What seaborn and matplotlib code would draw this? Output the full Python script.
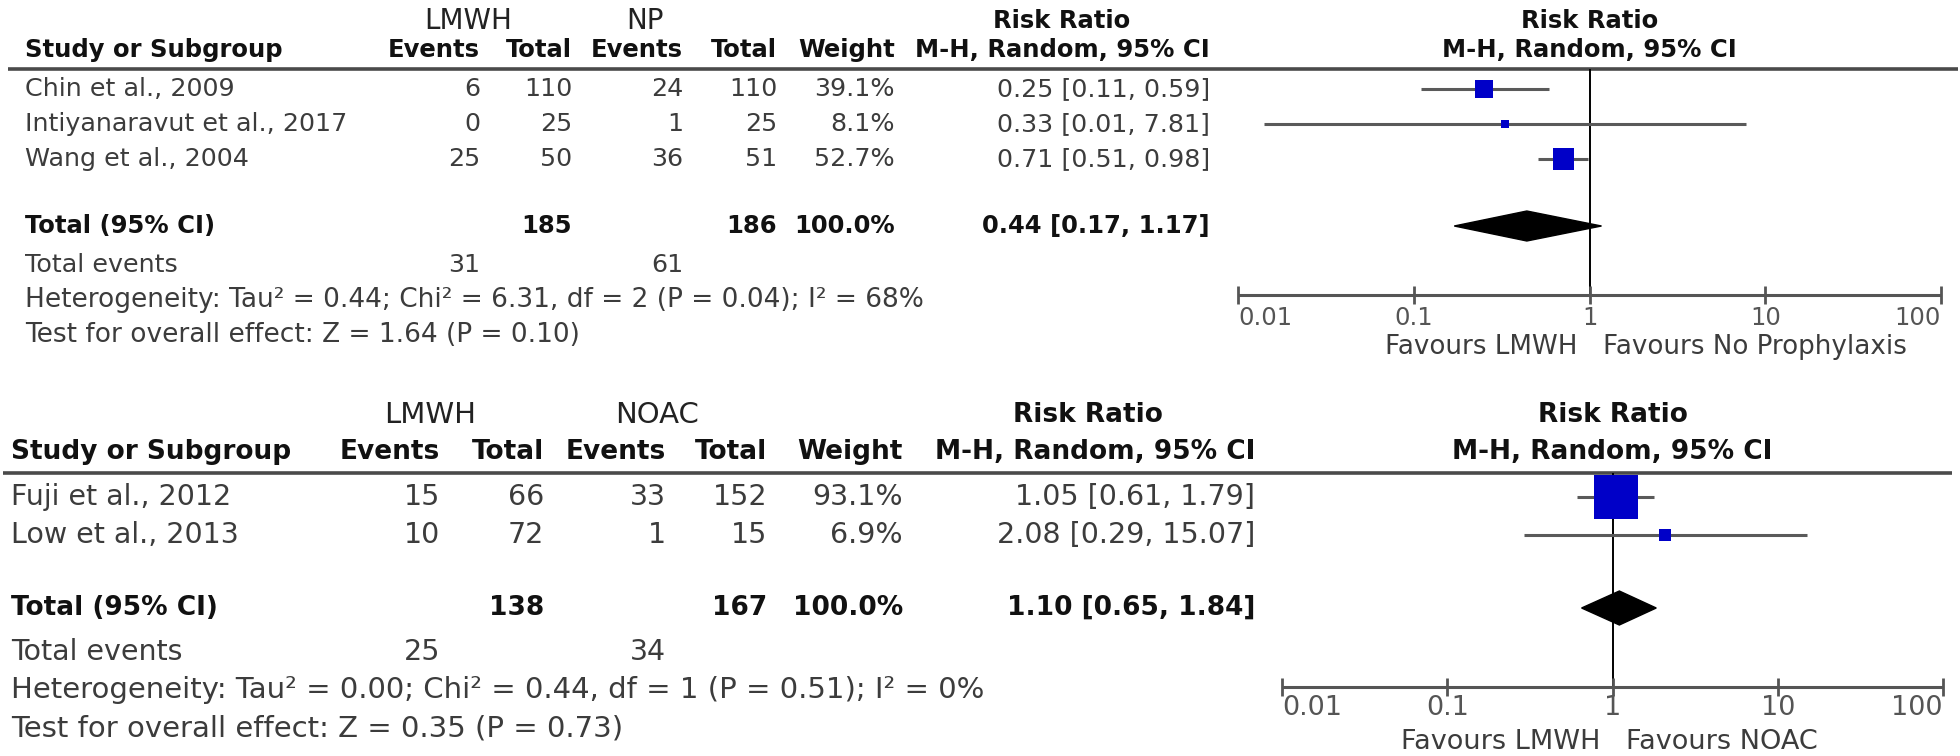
# -*- coding: utf-8 -*-
"""
Two RevMan-style forest plots: LMWH vs no prophylaxis, LMWH vs NOAC.
Table on the left drawn as text, forest on the right on a log scale.
"""

import numpy as np
import pandas as pd
import matplotlib
matplotlib.use("Agg")
import matplotlib.pyplot as plt
import seaborn as sns

# ---------- data: LMWH vs no prophylaxis ----------
np_studies = ["Chin et al., 2009", "Intiyanaravut et al., 2017", "Wang et al., 2004"]
np_ev1 = [6, 0, 25]
np_n1 = [110, 25, 50]
np_ev2 = [24, 1, 36]
np_n2 = [110, 25, 51]
np_weight = [39.1, 8.1, 52.7]
np_rr = [0.25, 0.33, 0.71]
np_lo = [0.11, 0.014, 0.51]
np_hi = [0.59, 7.81, 0.98]
np_total = [0.44, 0.17, 1.17]      # pooled RR, lower, upper
np_total_weight = 100.0
np_het = "Heterogeneity: Tau² = 0.44; Chi² = 6.31, df = 2 (P = 0.04); I² = 68%"
np_test = "Test for overall effect: Z = 1.64 (P = 0.10)"

# ---------- data: LMWH vs NOAC ----------
noac_studies = ["Fuji et al., 2012", "Low et al., 2013"]
noac_ev1 = [15, 10]
noac_n1 = [66, 72]
noac_ev2 = [33, 1]
noac_n2 = [152, 15]
noac_weight = [93.1, 6.9]
noac_rr = [1.05, 2.08]
noac_lo = [0.61, 0.29]
noac_hi = [1.79, 15.07]
noac_total = [1.10, 0.65, 1.84]
noac_total_weight = 100.0
noac_het = "Heterogeneity: Tau² = 0.00; Chi² = 0.44, df = 1 (P = 0.51); I² = 0%"
noac_test = "Test for overall effect: Z = 0.35 (P = 0.73)"

ticks = [0.01, 0.1, 1, 10, 100]

W, H = 1960, 756
sns.set_theme(style="white")
plt.rcParams['font.family'] = ['DejaVu Sans']

fig = plt.figure(figsize=(W / 100, H / 100), dpi=100)
tab = fig.add_axes([0, 0, 1, 1])
tab.set_xlim(0, W)
tab.set_ylim(H, 0)
tab.axis('off')

GREY = '#3c3c3c'
LINE = '#555555'
BLUE = '#0000c8'

# layout of each panel, in pixels of the final picture
top_layout = dict(x_left=25, line_x=(8, 1958), y_grp=21, y_hdr=50, y_line=69,
                  y_row0=89, dy=35, y_total=226, y_tev=265, y_het=300, y_test=335,
                  ev1=480, n1=572, ev2=683, n2=777, wt=895, ci=1210,
                  grp1=468, grp2=645, rr_hdr=1062,
                  f01=1238, f100=1941, y_axis=295, y_tick=318, y_fav=347,
                  fs=18.3, fsb=17.5, fs_grp=20, fs_het=19, fs_fav=18.8, fs_tick=17.5,
                  sq=4.4, dh=15)
bot_layout = dict(x_left=11, line_x=(3, 1952), y_grp=415, y_hdr=452, y_line=473,
                  y_row0=497, dy=38, y_total=608, y_tev=652, y_het=690, y_test=728,
                  ev1=440, n1=544, ev2=666, n2=767, wt=903, ci=1255,
                  grp1=430, grp2=657, rr_hdr=1088,
                  f01=1282, f100=1943, y_axis=687, y_tick=708, y_fav=742,
                  fs=20.5, fsb=19, fs_grp=21, fs_het=21, fs_fav=19.5, fs_tick=19.5,
                  sq=10.5, dh=17)


def draw_panel(L, studies, ev1, n1, ev2, n2, weight, rr, lo, hi, total, total_w,
               het, test, grp2, fav2):
    body = dict(fontsize=L['fs'], color=GREY, va='center')
    bold = dict(fontsize=L['fsb'], color='#111111', va='center', fontweight='bold')

    # group headers
    tab.text(L['grp1'], L['y_grp'], "LMWH", ha='center', va='center', fontsize=L['fs_grp'], color='#222222')
    tab.text(L['grp2'], L['y_grp'], grp2, ha='center', va='center', fontsize=L['fs_grp'], color='#222222')
    tab.text(L['rr_hdr'], L['y_grp'], "Risk Ratio", ha='center', **bold)

    # column headers
    tab.text(L['x_left'], L['y_hdr'], "Study or Subgroup", ha='left', **bold)
    for key, lab in [('ev1', 'Events'), ('n1', 'Total'), ('ev2', 'Events'),
                     ('n2', 'Total'), ('wt', 'Weight'), ('ci', 'M-H, Random, 95% CI')]:
        tab.text(L[key], L['y_hdr'], lab, ha='right', **bold)
    tab.hlines(L['y_line'], *L['line_x'], color='#4a4a4a', lw=2.6)

    rows_y = L['y_row0'] + L['dy'] * np.arange(len(studies))
    for i, y in enumerate(rows_y):
        tab.text(L['x_left'], y, studies[i], ha='left', **body)
        tab.text(L['ev1'], y, str(ev1[i]), ha='right', **body)
        tab.text(L['n1'], y, str(n1[i]), ha='right', **body)
        tab.text(L['ev2'], y, str(ev2[i]), ha='right', **body)
        tab.text(L['n2'], y, str(n2[i]), ha='right', **body)
        tab.text(L['wt'], y, f"{weight[i]:.1f}%", ha='right', **body)
        tab.text(L['ci'], y, f"{rr[i]:.2f} [{lo[i]:.2f}, {hi[i]:.2f}]", ha='right', **body)

    # pooled row
    yt = L['y_total']
    tab.text(L['x_left'], yt, "Total (95% CI)", ha='left', **bold)
    tab.text(L['n1'], yt, str(sum(n1)), ha='right', **bold)
    tab.text(L['n2'], yt, str(sum(n2)), ha='right', **bold)
    tab.text(L['wt'], yt, f"{total_w:.1f}%", ha='right', **bold)
    tab.text(L['ci'], yt, f"{total[0]:.2f} [{total[1]:.2f}, {total[2]:.2f}]", ha='right', **bold)

    tab.text(L['x_left'], L['y_tev'], "Total events", ha='left', **body)
    tab.text(L['ev1'], L['y_tev'], str(sum(ev1)), ha='right', **body)
    tab.text(L['ev2'], L['y_tev'], str(sum(ev2)), ha='right', **body)
    tab.text(L['x_left'], L['y_het'], het, ha='left', va='center', fontsize=L['fs_het'], color=GREY)
    tab.text(L['x_left'], L['y_test'], test, ha='left', va='center', fontsize=L['fs_het'], color=GREY)

    # forest part
    fx = fig.add_axes([L['f01'] / W, 0, (L['f100'] - L['f01']) / W, 1])
    fx.set_xscale('log')
    fx.text(1, L['y_grp'], "Risk Ratio", ha='center', **bold)
    fx.text(1, L['y_hdr'], "M-H, Random, 95% CI", ha='center', **bold)

    fx.vlines(1, L['y_line'], L['y_axis'], color='black', lw=1.4, zorder=1)
    fx.hlines(rows_y, lo, hi, color='#5a5a5a', lw=2.2, zorder=2)

    df = pd.DataFrame({'rr': rr, 'y': rows_y, 'w': weight})
    sns.scatterplot(data=df, x='rr', y='y', size='w', size_norm=(0, 100),
                    sizes=(0, L['sq'] * 100), marker='s', color=BLUE,
                    edgecolor='none', legend=False, ax=fx, zorder=4)

    est, tlo, thi = total
    fx.fill([tlo, est, thi, est], [yt, yt - L['dh'], yt, yt + L['dh']],
            color='black', zorder=3)

    # bottom scale: end labels sit inside the axis ends
    fx.hlines(L['y_axis'], ticks[0], ticks[-1], color=LINE, lw=2.2, clip_on=False)
    fx.vlines(ticks, L['y_axis'] - 9, L['y_axis'] + 9, color=LINE, lw=2.0, clip_on=False)
    for k, t in enumerate(ticks):
        ha = 'left' if k == 0 else ('right' if k == len(ticks) - 1 else 'center')
        fx.text(t, L['y_tick'], f"{t:g}", ha=ha, va='center',
                fontsize=L['fs_tick'], color='#555555')
    fx.annotate("Favours LMWH", xy=(1, L['y_fav']), xytext=(-9, 0),
                textcoords='offset points', ha='right', va='center',
                fontsize=L['fs_fav'], color=GREY)
    fx.annotate(fav2, xy=(1, L['y_fav']), xytext=(10, 0),
                textcoords='offset points', ha='left', va='center',
                fontsize=L['fs_fav'], color=GREY)

    fx.set_xlim(ticks[0], ticks[-1])
    fx.set_ylim(H, 0)
    fx.axis('off')


draw_panel(top_layout, np_studies, np_ev1, np_n1, np_ev2, np_n2, np_weight,
           np_rr, np_lo, np_hi, np_total, np_total_weight, np_het, np_test,
           "NP", "Favours No Prophylaxis")
draw_panel(bot_layout, noac_studies, noac_ev1, noac_n1, noac_ev2, noac_n2, noac_weight,
           noac_rr, noac_lo, noac_hi, noac_total, noac_total_weight, noac_het, noac_test,
           "NOAC", "Favours NOAC")

fig.savefig("out.png", dpi=100, facecolor='white')
